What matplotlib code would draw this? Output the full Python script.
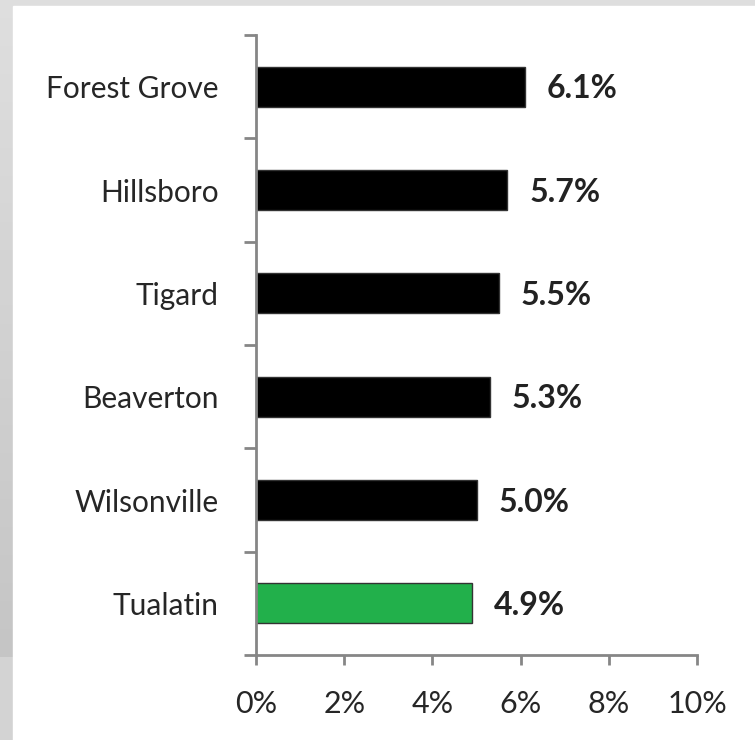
import matplotlib.pyplot as plt
import numpy as np
from matplotlib.patches import Rectangle

cities = ["Forest Grove", "Hillsboro", "Tigard", "Beaverton", "Wilsonville", "Tualatin"]
rates = [6.1, 5.7, 5.5, 5.3, 5.0, 4.9]
bar_colors = ["#000000", "#000000", "#000000", "#000000", "#000000", "#22b04b"]
xticks = [0, 2, 4, 6, 8, 10]

plt.rcParams['font.family'] = ['Lato', 'DejaVu Sans']

fig = plt.figure(figsize=(7.55, 7.40), dpi=100)
fig.patch.set_facecolor("#dadada")

# grey frame on the left fades darker toward the bottom
bg = fig.add_axes([0, 0, 1, 1], zorder=-2)
shade = np.concatenate([np.linspace(0.87, 0.77, 71), np.full(9, 0.83)])
bg.imshow(shade[:, None], cmap="gray", vmin=0, vmax=1, aspect="auto",
          extent=[0, 1, 0, 1], origin="upper")
bg.add_patch(Rectangle((13 / 755, 0), 1, 734 / 740, color="white", zorder=2))
bg.set_xlim(0, 1)
bg.set_ylim(0, 1)
bg.axis("off")

ax = fig.add_axes([256 / 755, 85 / 740, 441 / 755, 620 / 740])
ax.patch.set_alpha(0)

y = np.arange(len(cities))
ax.barh(y, rates, height=0.39, color=bar_colors, edgecolor="#333333", linewidth=1)

for yi, v in zip(y, rates):
    ax.text(v + 0.5, yi + 0.02, f"{v:.1f}%", va="center", ha="left",
            fontsize=23, fontweight="bold", color="#222222")

ax.set_xlim(0, 10)
ax.set_ylim(len(cities) - 0.5, -0.5)

ax.set_yticks(y)
ax.set_yticklabels(cities, fontsize=21.5, color="#262626")
ax.set_yticks(np.arange(len(cities) + 1) - 0.5, minor=True)
ax.tick_params(axis="y", which="major", length=0, pad=27)
ax.tick_params(axis="y", which="minor", length=9, width=2, color="#868686")

ax.set_xticks(xticks)
ax.set_xticklabels([f"{t}%" for t in xticks], fontsize=22, color="#262626")
ax.tick_params(axis="x", length=7.5, width=2, color="#868686", pad=18)

for side in ["top", "right"]:
    ax.spines[side].set_visible(False)
for side in ["left", "bottom"]:
    ax.spines[side].set_color("#868686")
    ax.spines[side].set_linewidth(2)

fig.savefig("out.png", dpi=100, facecolor=fig.get_facecolor())
